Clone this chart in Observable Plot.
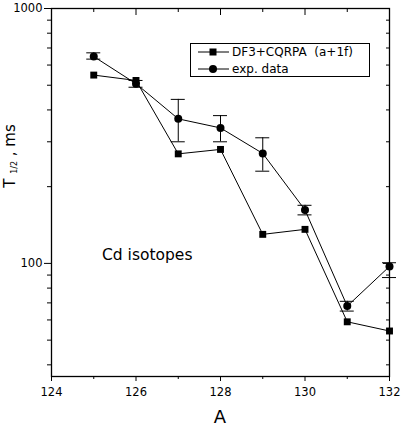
<!DOCTYPE html>
<html><head><meta charset="utf-8">
<script src="https://cdn.jsdelivr.net/npm/d3@7"></script>
<script src="https://cdn.jsdelivr.net/npm/@observablehq/plot@0.6"></script>
<style>body{margin:0;background:#fff}</style>
</head><body><div id="chart"></div>
<script>
const massNumbers = [125, 126, 127, 128, 129, 130, 131, 132];
const theoryHalfLife = [548, 522, 269, 280, 130, 136, 59, 54.3];
const expHalfLife = [648, 507, 369, 340, 270, 162, 68, 97.3];
const expUpper = [670, 522, 440, 380, 311, 169, 71, 100.6];
const expLower = [633, 491, 300, 300, 230, 155, 65, 88];
const xMajorTicks = [124, 126, 128, 130, 132];
const xMinorTicks = [125, 127, 129, 131];
const yMajorTicks = [100, 1000];
const yMinorTicks = [40, 50, 60, 70, 80, 90, 200, 300, 400, 500, 600, 700, 800, 900];
const legendLabels = ["DF3+CQRPA  (a+1f)", "exp. data"];
const annotation = "Cd isotopes";
const xLabel = "A";

const theory = massNumbers.map((a, i) => ({A: a, T: theoryHalfLife[i]}));
const exp = massNumbers.map((a, i) => ({A: a, T: expHalfLife[i], hi: expUpper[i], lo: expLower[i]}));

const font = "DejaVu Sans, sans-serif";
const none = () => "";

const plot = Plot.plot({
  width: 401, height: 430,
  marginLeft: 51, marginRight: 12, marginTop: 8, marginBottom: 54,
  style: {fontFamily: font, fontSize: "11.5px", color: "#000", background: "#fff"},
  x: {domain: [124, 132], label: null},
  y: {type: "log", domain: [36, 1000], label: null},
  marks: [
    Plot.axisX({anchor: "bottom", ticks: xMajorTicks, tickSize: 5, tickPadding: 6, tickFormat: d => String(d), label: null}),
    Plot.axisX({anchor: "bottom", ticks: xMinorTicks, tickSize: 3, tickFormat: none, label: null}),
    Plot.axisX({anchor: "top", ticks: xMajorTicks, tickSize: -6, tickFormat: none, label: null}),
    Plot.axisX({anchor: "top", ticks: xMinorTicks, tickSize: -3, tickFormat: none, label: null}),
    Plot.axisY({anchor: "left", ticks: yMajorTicks, tickSize: 7, tickPadding: 2, tickFormat: d => String(d), label: null}),
    Plot.axisY({anchor: "left", ticks: yMinorTicks, tickSize: 4, tickFormat: none, label: null}),
    Plot.axisY({anchor: "right", ticks: yMajorTicks, tickSize: -7, tickFormat: none, label: null}),
    Plot.axisY({anchor: "right", ticks: yMinorTicks, tickSize: -4, tickFormat: none, label: null}),
    Plot.frame({stroke: "#000", strokeWidth: 1.3}),
    Plot.line(theory, {x: "A", y: "T", stroke: "#000", strokeWidth: 1}),
    Plot.line(exp, {x: "A", y: "T", stroke: "#000", strokeWidth: 1}),
    Plot.ruleX(exp, {x: "A", y1: "lo", y2: "hi", stroke: "#000", strokeWidth: 1}),
    Plot.ruleY(exp, {y: "hi", x1: "A", x2: "A", insetLeft: -7, insetRight: -7, stroke: "#000", strokeWidth: 1}),
    Plot.ruleY(exp, {y: "lo", x1: "A", x2: "A", insetLeft: -7, insetRight: -7, stroke: "#000", strokeWidth: 1}),
    Plot.dot(theory, {x: "A", y: "T", symbol: "square", r: 3.9, fill: "#000"}),
    Plot.dot(exp, {x: "A", y: "T", symbol: "circle", r: 4, fill: "#000"})
  ]
});
document.getElementById("chart").appendChild(plot);

const svg = d3.select(plot);
// legend
const lg = svg.append("g").attr("font-family", font).attr("font-size", 12).attr("text-anchor", "start");
lg.append("rect").attr("x", 190.5).attr("y", 43.5).attr("width", 179).attr("height", 33)
  .attr("fill", "#fff").attr("stroke", "#000").attr("stroke-width", 1);
[52, 69].forEach((yy, i) => {
  lg.append("line").attr("x1", 198).attr("x2", 229).attr("y1", yy).attr("y2", yy).attr("stroke", "#000");
  if (i === 0) lg.append("rect").attr("x", 209.5).attr("y", yy - 3.5).attr("width", 7).attr("height", 7).attr("fill", "#000");
  else lg.append("circle").attr("cx", 213).attr("cy", yy).attr("r", 4).attr("fill", "#000");
  lg.append("text").attr("x", 232).attr("y", yy).attr("dy", "0.35em").text(legendLabels[i]);
});
// annotation
svg.append("text").attr("x", 102).attr("y", 260).attr("text-anchor", "start")
  .attr("font-family", font).attr("font-size", 15.5).text(annotation);
// x label
svg.append("text").attr("x", 220).attr("y", 423).attr("text-anchor", "middle").attr("font-family", font).attr("font-size", 18).text(xLabel);
// y label
const yl = svg.append("text").attr("transform", "translate(15,156) rotate(-90)").attr("text-anchor", "middle")
  .attr("font-family", font).attr("font-size", 15);
yl.append("tspan").text("T ");
yl.append("tspan").attr("font-size", 8).attr("dy", 2).text("1/2");
yl.append("tspan").attr("dy", -2).text(" , ms");
</script>
</body></html>
